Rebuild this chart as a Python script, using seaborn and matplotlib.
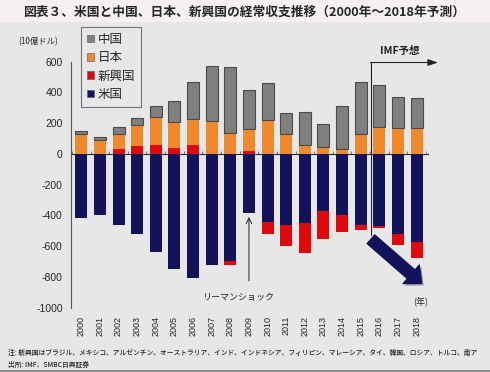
import numpy as np
import pandas as pd
import matplotlib
import matplotlib.pyplot as plt
import seaborn as sns
from matplotlib.patches import Patch, Rectangle
import matplotlib.patheffects as pe

matplotlib.use('Agg')

# Data (10億ドル)
years = [str(y) for y in range(2000, 2019)]
us = [-417, -400, -463, -523, -638, -749, -808, -723, -695, -384,
      -445, -465, -450, -371, -395, -465, -471, -519, -571]
japan = [128, 88, 102, 135, 181, 169, 170, 215, 139, 147,
         219, 128, 59, 44, 33, 132, 174, 169, 171]
china = [24, 22, 42, 48, 71, 137, 237, 358, 426, 250,
         241, 137, 217, 149, 282, 337, 276, 204, 192]
emerging = [0, 3, 30, 54, 58, 39, 58, 0, -30, 18,
            -78, -135, -195, -181, -113, -28, -9, -76, -105]
series_names = ['中国', '日本', '新興国', '米国']
yticks = [-1000, -800, -600, -400, -200, 0, 200, 400, 600]

c_china, c_japan, c_em, c_us = '#817e7e', '#f0892c', '#e0080a', '#13135c'
bg = '#e7e7e7'

sns.set_style('white')
plt.rcParams['font.family'] = ['Noto Sans CJK JP', 'DejaVu Sans']
plt.rcParams['axes.unicode_minus'] = False

df = pd.DataFrame({'year': years, 'us': us, 'japan': japan,
                   'china': china, 'em': emerging})
df['em_pos'] = df['em'].clip(lower=0)
df['em_neg'] = df['em'].clip(upper=0)

fig = plt.figure(figsize=(4.9, 3.72), dpi=100, facecolor=bg)
ax = fig.add_axes([0.145, 0.173, 0.728, 0.661])
ax.set_facecolor(bg)

w = 0.64
sns.barplot(data=df, x='year', y='us', color=c_us, width=w, saturation=1,
            edgecolor='none', ax=ax)
sns.barplot(data=df, x='year', y='em_neg', bottom=df['us'].values, color=c_em,
            width=w, saturation=1, edgecolor='none', ax=ax)
sns.barplot(data=df, x='year', y='em_pos', color=c_em, width=w, saturation=1,
            edgecolor='none', ax=ax)
sns.barplot(data=df, x='year', y='japan', bottom=df['em_pos'].values,
            color=c_japan, width=w, saturation=1, edgecolor='none', ax=ax)
sns.barplot(data=df, x='year', y='china',
            bottom=(df['em_pos'] + df['japan']).values, color=c_china,
            width=w, saturation=1, edgecolor='#4a4a4a', linewidth=0.8, ax=ax)

ax.set_xlim(-0.55, 18.6)
ax.set_ylim(-1000, 600)
ax.set_yticks(yticks)
ax.set_xticks(range(len(years)))
ax.set_xticklabels(years, rotation=90, fontsize=6.5, family='Liberation Sans')
ax.tick_params(axis='x', length=0, pad=6)
ax.tick_params(axis='y', length=3, width=0.8, color='#555555',
               labelsize=7.5, direction='out', pad=3)
for lab in ax.get_yticklabels():
    lab.set_family('Liberation Sans')
ax.set_xlabel('')
ax.set_ylabel('')
for s in ['top', 'right', 'bottom']:
    ax.spines[s].set_visible(False)
ax.spines['left'].set_color('#555555')
ax.spines['left'].set_linewidth(0.8)

# zero line with category boundary ticks
zero_ax = ax.secondary_xaxis(1000 / 1600)
zero_ax.set_xticks(np.arange(-0.5, 19, 1))
zero_ax.tick_params(axis='x', length=2.5, width=0.6, color='#666666',
                    labelbottom=False, labeltop=False, direction='out')
zero_ax.spines['bottom'].set_color('#666666')
zero_ax.spines['bottom'].set_linewidth(0.8)

# legend
handles = [Patch(facecolor=c, edgecolor='#666666', linewidth=0.5)
           for c in [c_china, c_japan, c_em, c_us]]
leg = fig.legend(handles, series_names, loc='upper left',
                 bbox_to_anchor=(0.165, 0.928), fontsize=9, frameon=True,
                 fancybox=False, edgecolor='#555555', facecolor=bg,
                 handlelength=0.55, handleheight=0.55, handletextpad=0.3,
                 labelspacing=0.42, borderpad=0.5, borderaxespad=0)
leg.get_frame().set_linewidth(0.8)

# annotations
fig.text(0.078, 0.887, '(10億ドル)', fontsize=6, ha='center', va='center')
fig.text(0.815, 0.863, 'IMF予想', fontsize=7.5, ha='center', va='center',
         weight='bold', color='#222222')
ax.plot([15.53, 15.53], [-528, 595], color='#222222', lw=0.8, clip_on=False)
ax.annotate('', xy=(19.15, 595), xytext=(15.53, 595), annotation_clip=False,
            arrowprops=dict(arrowstyle='-|>,head_length=0.6,head_width=0.2',
                            color='#222222', lw=0.8, shrinkA=0, shrinkB=0))
big = ax.annotate('', xy=(18.27, -842), xytext=(15.55, -555),
                  annotation_clip=False,
                  arrowprops=dict(arrowstyle='simple,head_length=0.9,head_width=1.6,tail_width=0.75',
                                  fc=c_us, ec=c_us, mutation_scale=11,
                                  shrinkA=0, shrinkB=0))
big.arrow_patch.set_path_effects([pe.SimplePatchShadow(offset=(1.5, -1.5),
                                                       alpha=0.35),
                                  pe.Normal()])
ax.annotate('', xy=(9, -410), xytext=(9, -825), annotation_clip=False,
            arrowprops=dict(arrowstyle='->,head_length=0.4,head_width=0.2',
                            color='#222222', lw=0.7, shrinkA=0, shrinkB=0))
fig.text(0.486, 0.199, 'リーマンショック', fontsize=6.5, ha='center',
         va='center')
fig.text(0.859, 0.188, '(年)', fontsize=6.5, ha='center', va='center')

# title strip
fig.patches.append(Rectangle((0, 0.942), 1, 0.058, transform=fig.transFigure,
                             facecolor='#f6f1f1', edgecolor='none', zorder=-1))
fig.text(0.497, 0.968, '図表３、米国と中国、日本、新興国の経常収支推移（2000年～2018年予測）',
         fontsize=9.2, weight='bold', ha='center', va='center')

# notes
fig.text(0.016, 0.051, '注: 新興国はブラジル、メキシコ、アルゼンチン、オーストラリア、インド、'
         'インドネシア、フィリピン、マレーシア、タイ、韓国、ロシア、トルコ、南ア',
         fontsize=4.9, ha='left', va='center', weight='medium')
fig.text(0.016, 0.02, '出所: IMF、SMBC日興証券', fontsize=4.9, ha='left',
         va='center', weight='medium')
fig.patches.append(Rectangle((0, 0), 1, 0.006, transform=fig.transFigure,
                             facecolor='#8a8a8a', edgecolor='none'))

fig.savefig('out.png', dpi=100, facecolor=bg)
